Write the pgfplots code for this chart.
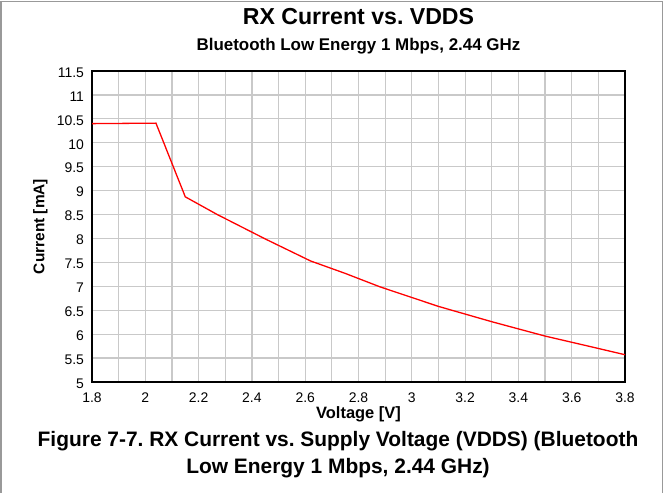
\documentclass[border=0pt]{standalone}
\usepackage{fontspec}
\setmainfont{Liberation Sans}
\usepackage{pgfplots}
\pgfplotsset{compat=1.18}
\begin{document}
\frenchspacing
\begin{tikzpicture}
\useasboundingbox (0,0) rectangle (664bp,493bp);
\draw[color=gray!80, line width=1.5bp] (1bp,0) -- (1bp,491.5bp) -- (662.5bp,491.5bp) -- (662.5bp,0);
\node[font=\fontsize{23.2}{26}\selectfont\bfseries, anchor=base] at (358.5bp,468bp) {RX Current vs. VDDS};
\node[font=\fontsize{17}{20}\selectfont\bfseries, anchor=base] at (358.5bp,442bp) {Bluetooth Low Energy 1 Mbps, 2.44 GHz};
\begin{axis}[
  at={(92bp,111bp)}, anchor=south west,
  scale only axis, width=533bp, height=311bp,
  xmin=1.8, xmax=3.8, ymin=5, ymax=11.5,
  xtick={1.8,2,2.2,2.4,2.6,2.8,3,3.2,3.4,3.6,3.8},
  xticklabels={1.8,2,2.2,2.4,2.6,2.8,3,3.2,3.4,3.6,3.8},
  minor xtick={1.9,2.1,2.3,2.5,2.7,2.9,3.1,3.3,3.5,3.7},
  ytick={5,5.5,6,6.5,7,7.5,8,8.5,9,9.5,10,10.5,11,11.5},
  yticklabels={5,5.5,6,6.5,7,7.5,8,8.5,9,9.5,10,10.5,11,11.5},
  grid=both,
  major grid style={color=black!21, line width=1.2bp},
  minor grid style={color=black!21, line width=1.2bp},
  major tick length=0pt, minor tick length=0pt,
  axis line style={line width=2bp, black},
  /pgf/number format/assume math mode=true,
  tick label style={font=\fontsize{14}{16}\selectfont},
  yticklabel style={anchor=east, xshift=-4.5bp, yshift=-1.5bp},
  xticklabel style={anchor=base, yshift=-20.7bp},
  xlabel={Voltage [V]}, ylabel={Current [mA]},
  xlabel style={font=\fontsize{16.5}{18}\selectfont\bfseries, at={(axis description cs:0.5,-0.1174)}, anchor=base},
  ylabel style={font=\fontsize{15.5}{18}\selectfont\bfseries, at={(axis description cs:-0.0895,0.5)}, anchor=base},
]
\addplot[red, line width=1.3bp] coordinates {
(1.8,10.40) (2.04,10.41) (2.15,8.87) (2.27,8.50) (2.45,7.99) (2.62,7.53)
(2.75,7.27) (2.88,6.99) (3.1,6.58) (3.3,6.26) (3.5,5.96) (3.67,5.74) (3.8,5.57)
};
\end{axis}
\node[font=\fontsize{21}{26}\selectfont\bfseries, anchor=base] at (338bp,46bp)
  {Figure 7-7. RX Current vs. Supply Voltage (VDDS) (Bluetooth};
\node[font=\fontsize{21}{26}\selectfont\bfseries, anchor=base] at (338bp,20bp)
  {Low Energy 1 Mbps, 2.44 GHz)};
\end{tikzpicture}
\end{document}
